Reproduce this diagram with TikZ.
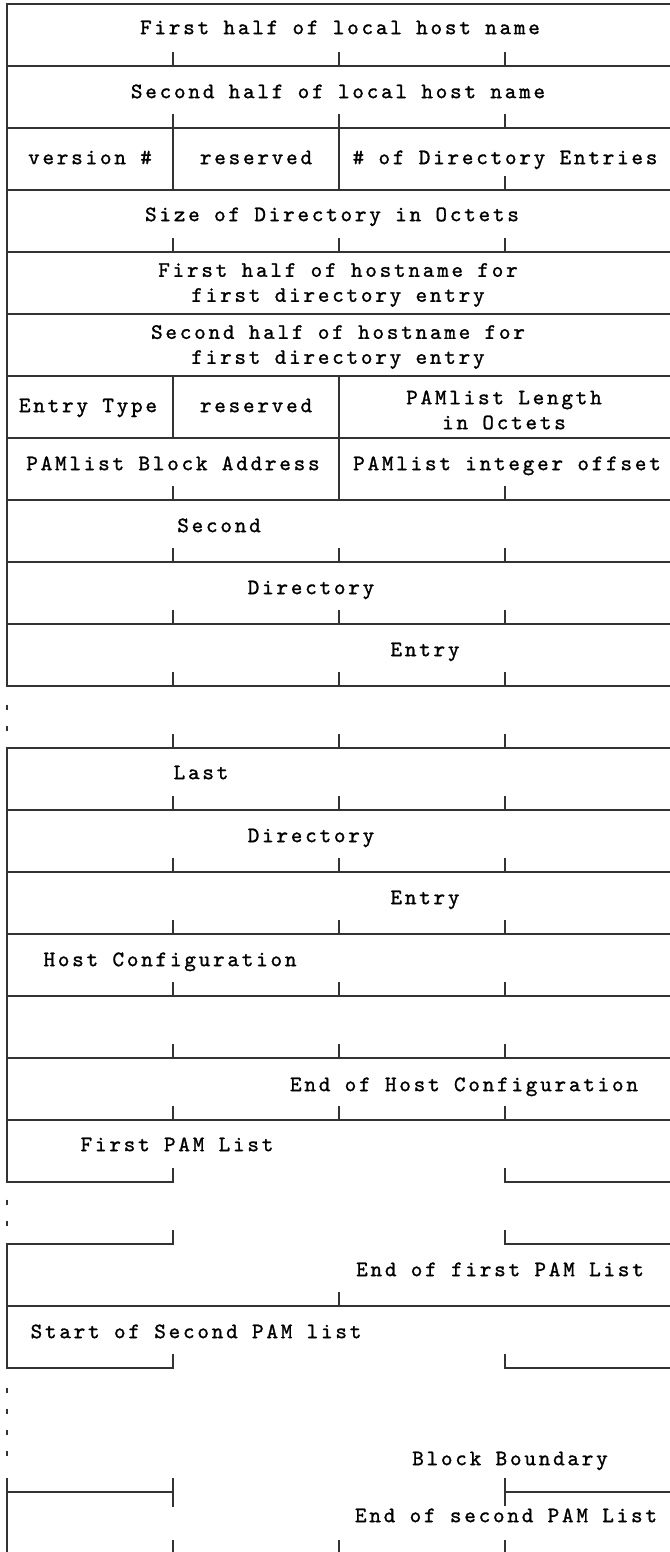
\documentclass[tikz,border=0pt]{standalone}
\usepackage{fontspec}
\newfontfamily\courfont[LetterSpace=12.8,FakeBold=1.2]{lmmono10-regular.otf}
\begin{document}
\begin{tikzpicture}[x=1pt,y=-1pt,
  ln/.style={line width=1.6pt, draw=black!80, line cap=rect},
  tick/.style={line width=1.6pt, draw=black!80},
  lbl/.style={font=\courfont\fontsize{22}{25}\selectfont, inner sep=0pt, anchor=mid, text=black, yshift=-3pt},
  lbl2/.style={font=\courfont\fontsize{22}{25}\selectfont, inner sep=0pt, anchor=center, align=center, text=black, yshift=-2pt}]
\useasboundingbox (0,0) rectangle (669,1552);
\def\xa{6.7}\def\xb{172.7}\def\xc{339}\def\xd{505}\def\xr{669}
% left border pieces
\draw[ln] (\xa,686) -- (\xa,4) -- (\xr,4);
\draw[ln] (\xa,748) -- (\xa,1182);
\draw[ln] (\xa,1244) -- (\xa,1368);
\draw[tick] (\xa,1478) -- (\xa,1552);
% full horizontal lines
\foreach \y in {66,128,190,252,314,376,438,500,562,624,686,748,810,872,934,996,1058,1120,1306}
  \draw[ln] (\xa,\y) -- (\xr,\y);
% broken horizontal lines
\foreach \y in {1182,1244,1368,1492}{
  \draw[ln] (\xa,\y) -- (\xb,\y);
  \draw[ln] (\xd,\y) -- (\xr,\y);
}
% full-height column dividers
\draw[ln] (\xb,128) -- (\xb,190);
\draw[ln] (\xc,128) -- (\xc,190);
\draw[ln] (\xb,376) -- (\xb,438);
\draw[ln] (\xc,376) -- (\xc,438);
\draw[ln] (\xc,438) -- (\xc,500);
% ticks
\foreach \y in {66,128,252,562,624,686,748,810,872,934,996,1058,1120}
  \foreach \x in {\xb,\xc,\xd}
    \draw[tick] (\x,\y) -- (\x,\y-14);
\draw[tick] (\xd,190) -- (\xd,176);
\foreach \x in {\xb,\xd} \draw[tick] (\x,500) -- (\x,486);
\foreach \y in {1182,1244,1368}
  \foreach \x in {\xb,\xd}
    \draw[tick] (\x,\y) -- (\x,\y-14);
\draw[tick] (\xc,1306) -- (\xc,1292);
\draw[tick] (\xb,1478) -- (\xb,1507);
\draw[tick] (\xd,1478) -- (\xd,1506);
\foreach \x in {\xb,\xc,\xd} \draw[tick] (\x,1540) -- (\x,1552);
% continuation dots
\foreach \y in {707,728,1202,1223,1390,1411,1432,1453}
  \draw[tick] (\xa,\y-2.5) -- (\xa,\y+2.5);
% labels
\node[lbl] (t1) at (340,29) {First half of local host name};
\node[lbl] (t2) at (338,93) {Second half of local host name};
\node[lbl] (t3a) at (90,159) {version \#};
\node[lbl] (t3b) at (256,159) {reserved};
\node[lbl] (t3c) at (505,159) {\# of Directory Entries};
\node[lbl] (t4) at (332,216) {Size of Directory in Octets};
\node[lbl2] (t5) at (338,283) {First half of hostname for\\first directory entry};
\node[lbl2] (t6) at (338,345) {Second half of hostname for\\first directory entry};
\node[lbl] (t7a) at (88,407) {Entry Type};
\node[lbl] (t7b) at (256,407) {reserved};
\node[lbl2] (t7c) at (504,408) {PAMlist Length\\in Octets};
\node[lbl] (t8a) at (173,465) {PAMlist Block Address};
\node[lbl] (t8b) at (507,465) {PAMlist integer offset};
\node[lbl] (t9) at (219,527) {Second};
\node[lbl] (t10) at (311,589) {Directory};
\node[lbl] (t11) at (425,651) {Entry};
\node[lbl] (t12) at (201,774) {Last};
\node[lbl] (t13) at (311,837) {Directory};
\node[lbl] (t14) at (425,899) {Entry};
\node[lbl] (t15) at (170,961) {Host Configuration};
\node[lbl] (t17) at (464,1086) {End of Host Configuration};
\node[lbl] (t18) at (177,1146) {First PAM List};
\node[lbl] (t19) at (500,1271) {End of first PAM List};
\node[lbl] (t20) at (196,1333) {Start of Second PAM list};
\node[lbl] (tbb) at (510,1460) {Block Boundary};
\node[lbl] (t21) at (506,1517) {End of second PAM List};
\end{tikzpicture}
\end{document}
